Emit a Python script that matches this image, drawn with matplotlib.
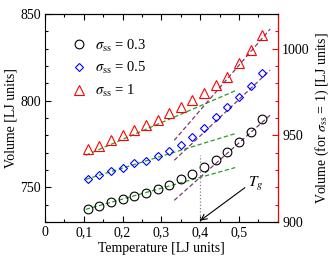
import matplotlib
matplotlib.use("Agg")
import matplotlib.pyplot as plt
from matplotlib.ticker import MultipleLocator, FixedLocator

plt.rcParams['font.family'] = ['Liberation Serif', 'DejaVu Serif']
plt.rcParams['mathtext.fontset'] = 'stix'
plt.rcParams['font.size'] = 10

# temperatures of the simulation points
temps = [0.11, 0.14, 0.17, 0.20, 0.23, 0.26, 0.29, 0.32,
         0.35, 0.38, 0.41, 0.44, 0.47, 0.50, 0.53, 0.56]
vol_03 = [737.5, 739.4, 741.3, 743.0, 744.8, 746.9, 749.0, 751.5,
          754.6, 757.9, 761.7, 765.6, 770.2, 776.2, 782.0, 789.7]
vol_05 = [754.8, 757.2, 759.2, 761.2, 764.0, 765.4, 768.3, 771.0,
          774.5, 779.1, 784.3, 790.3, 796.1, 802.2, 808.6, 815.7]
vol_1 = [942.3, 944.1, 947.2, 950.3, 953.0, 956.0, 959.1, 962.9,
         966.4, 970.2, 974.4, 979.0, 983.5, 992.0, 999.3, 1008.0]

# linear fits: glassy branch (green) and liquid branch (purple)
glass_T = [0.105, 0.49]
glass_03 = [737.3, 761.4]
glass_05 = [754.6, 781.0]
glass_1 = [938.5, 975.7]
liquid_T = [0.333, 0.58]
liquid_03 = [742.5, 791.6]
liquid_05 = [765.6, 817.6]
liquid_1 = [947.1, 1011.3]

Tg = 0.40
Tg_top = 768.5

xtick_vals = [0, 0.1, 0.2, 0.3, 0.4, 0.5]
xtick_labels = ["0", "0,1", "0,2", "0,3", "0,4", "0,5"]

green = '#22a022'
purple = '#7a3a7a'
dash = (0, (3.5, 2))

fig = plt.figure(figsize=(3.32, 2.68), dpi=100)
ax = fig.add_axes([0.1355, 0.1716, 0.7015, 0.7762])
ax2 = ax.twinx()

ax.plot(glass_T, glass_03, color=green, ls=dash, lw=0.9)
ax.plot(glass_T, glass_05, color=green, ls=dash, lw=0.9)
ax2.plot(glass_T, glass_1, color=green, ls=dash, lw=0.9)
ax.plot(liquid_T, liquid_03, color=purple, ls=dash, lw=0.9)
ax.plot(liquid_T, liquid_05, color=purple, ls=dash, lw=0.9)
ax2.plot(liquid_T, liquid_1, color=purple, ls=dash, lw=0.9)

h1, = ax.plot(temps, vol_03, 'o', ms=6.3, mfc='none', mec='black', mew=0.8)
h2, = ax.plot(temps, vol_05, 'D', ms=4.3, mfc='none', mec='blue', mew=0.8)
h3, = ax2.plot(temps, vol_1, '^', ms=6.5, mfc='none', mec='red', mew=0.8)

ax.plot([Tg, Tg], [730, Tg_top], color='gray', ls=':', lw=0.9)
ax.annotate('', xy=(Tg, 730.8), xytext=(0.515, 749.8),
            arrowprops=dict(arrowstyle='->', color='black', lw=0.8,
                            shrinkA=0, shrinkB=0))
ax.text(0.522, 752, r'$T_g$', fontsize=11, ha='left', va='center')

ax.set_xlim(0, 0.6)
ax.set_ylim(730, 850)
ax2.set_ylim(900, 1020)

ax.xaxis.set_major_locator(FixedLocator(xtick_vals))
ax.set_xticklabels(xtick_labels)
ax.xaxis.set_minor_locator(MultipleLocator(0.05))
ax.yaxis.set_major_locator(FixedLocator([750, 800, 850]))
ax.yaxis.set_minor_locator(MultipleLocator(10))
ax2.yaxis.set_major_locator(FixedLocator([900, 950, 1000]))
ax2.yaxis.set_minor_locator(MultipleLocator(10))

ax.tick_params(which='both', direction='in', top=True, right=False)
ax.tick_params(which='major', length=4.5, width=0.8, labelsize=10, pad=3)
ax.tick_params(which='minor', length=2.5, width=0.8)
ax2.tick_params(which='both', direction='in', colors='red', labelcolor='black')
ax2.tick_params(which='major', length=4.5, width=0.8, labelsize=10, pad=3)
ax2.tick_params(which='minor', length=2.5, width=0.8)

for s in ax.spines.values():
    s.set_linewidth(0.8)
ax2.spines['right'].set_color('red')
ax2.spines['right'].set_linewidth(0.8)
ax2.spines['left'].set_visible(False)

ax.set_xlabel('Temperature [LJ units]', fontsize=10, labelpad=2)
ax.set_ylabel('Volume [LJ units]', fontsize=10, labelpad=2)
ax2.set_ylabel(r'Volume (for $\sigma_{\rm ss}$ = 1) [LJ units]', fontsize=10, labelpad=3)

ax.legend([h1, h2, h3],
          [r'$\sigma_{\rm ss}$ = 0.3', r'$\sigma_{\rm ss}$ = 0.5', r'$\sigma_{\rm ss}$ = 1'],
          loc='upper left', bbox_to_anchor=(0.09, 0.915), frameon=False,
          fontsize=10.5, handlelength=1.0, handletextpad=0.6, labelspacing=0.45,
          borderaxespad=0)

fig.savefig('out.png', dpi=100)
